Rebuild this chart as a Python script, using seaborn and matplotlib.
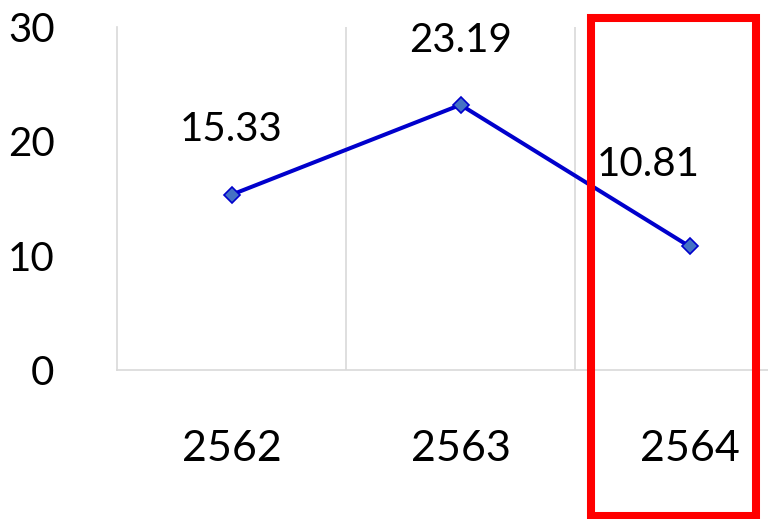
import matplotlib
matplotlib.use("Agg")
import matplotlib.pyplot as plt
import seaborn as sns
import pandas as pd
from matplotlib.patches import Rectangle

# chart values
years = ["2562", "2563", "2564"]
values = [15.33, 23.19, 10.81]
label_offsets = [(0, 47), (0, 46), (-30, 59)]  # in points, from point to label
y_ticks = [0, 10, 20, 30]

sns.set_theme(style="white")
plt.rcParams["font.family"] = ["Lato", "DejaVu Sans"]

df = pd.DataFrame({"year": years, "value": values})

fig = plt.figure(figsize=(7.68, 5.19), dpi=100)
# axes spans past the right edge (the picture is cropped there)
ax = fig.add_axes([117 / 768, 1 - 370 / 519, (804 - 117) / 768, (370 - 27) / 519])

sns.lineplot(data=df, x="year", y="value", ax=ax, color="#0000CC", linewidth=2.9,
             marker="D", markersize=8, markerfacecolor="#4472C4",
             markeredgecolor="#0000CC", markeredgewidth=1.2)

ax.set_xlim(-0.5, 2.5)
ax.set_ylim(0, 30)
ax.set_yticks(y_ticks)
ax.set_yticklabels([str(t) for t in y_ticks])
ax.set_xticks(range(len(years)))
ax.set_xticklabels(years)
ax.set_xticks([0.5, 1.5, 2.5], minor=True)
ax.grid(False)
ax.grid(which="minor", axis="x", color="#d9d9d9", linewidth=1.2)
ax.tick_params(axis="both", which="both", length=0, labelsize=29, colors="black")
ax.tick_params(axis="x", pad=43, labelsize=31)
ax.tick_params(axis="y", pad=45)
ax.set_xlabel("")
ax.set_ylabel("")
for s in ["top", "right"]:
    ax.spines[s].set_visible(False)
for s in ["left", "bottom"]:
    ax.spines[s].set_color("#d9d9d9")
    ax.spines[s].set_linewidth(1.2)

# data labels
for i, (v, off) in enumerate(zip(values, label_offsets)):
    ax.annotate(f"{v:.2f}", xy=(i, v), xytext=off, textcoords="offset points",
                ha="center", va="center", fontsize=29, color="black")

# red highlight box around the last year
fig.patches.append(Rectangle((591 / 768, 1 - 516 / 519), (756 - 591) / 768, (516 - 18) / 519,
                             transform=fig.transFigure, fill=False,
                             edgecolor="#FF0000", linewidth=5.8, zorder=10))

fig.savefig("out.png", dpi=100)
